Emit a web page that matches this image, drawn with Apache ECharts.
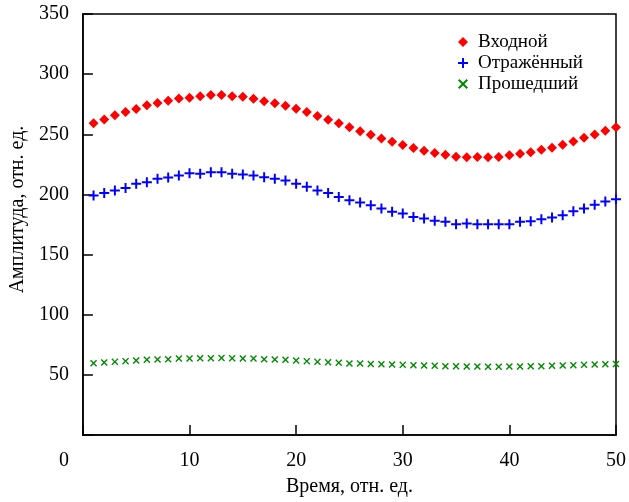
<!DOCTYPE html>
<html>
<head>
<meta charset="utf-8">
<script src="https://cdn.jsdelivr.net/npm/echarts@6/dist/echarts.min.js"></script>
<style>
html,body{margin:0;padding:0;background:#fff;}
#chart{width:629px;height:502px;}
</style>
</head>
<body>
<div id="chart"></div>
<script>
var timeValues = [1,2,3,4,5,6,7,8,9,10,11,12,13,14,15,16,17,18,19,20,21,22,23,24,25,26,27,28,29,30,31,32,33,34,35,36,37,38,39,40,41,42,43,44,45,46,47,48,49,50];
var inputValues = [259.2,262.2,265.8,268.5,271.0,274.1,276.0,277.9,279.8,280.4,281.7,282.6,282.6,281.7,281.2,279.6,277.4,275.7,273.8,271.3,268.6,265.3,262.0,259.2,255.9,252.6,249.6,246.6,243.8,241.0,238.6,236.4,234.4,233.0,231.4,230.9,231.1,230.9,231.1,232.5,233.9,235.0,237.2,238.8,241.3,244.1,247.1,249.9,252.9,255.9];
var reflectedValues = [199.2,201.2,203.3,205.3,208.9,210.2,213.0,214.1,215.7,217.7,217.1,218.5,218.5,217.1,216.5,215.7,214.3,213.0,211.6,208.9,206.4,203.3,201.2,197.9,195.1,193.2,190.9,188.2,185.5,184.1,181.3,180.0,178.1,177.2,175.3,175.8,175.3,175.3,175.3,175.3,177.2,177.7,179.4,180.8,182.7,186.0,188.2,191.5,194.2,195.9];
var transmittedValues = [59.7,60.3,60.8,61.4,61.9,62.5,62.7,63.0,63.6,63.6,63.8,63.8,64.1,63.8,63.6,63.6,63.0,62.7,62.5,61.9,61.4,60.8,60.5,60.0,59.4,59.4,59.1,58.9,58.6,58.3,58.0,57.8,57.5,57.2,57.2,57.0,57.0,56.7,56.7,57.0,57.0,57.2,57.2,57.5,57.8,58.0,58.3,58.6,58.9,59.1];
var seriesNames = ['Входной','Отражённый','Прошедший'];
var xTickLabels = ['0','10','20','30','40','50'];
var yTickLabels = ['','50','100','150','200','250','300','350'];
var xAxisTitle = 'Время, отн. ед.';
var yAxisTitle = 'Амплитуда, отн. ед.';

function pairs(vals){ return timeValues.map(function(t,i){ return [t, vals[i]]; }); }

var FONT = 'Liberation Serif';
var plusPath = 'path://M4,0H6V4H10V6H6V10H4V6H0V4H4Z';
var crossPath = 'path://M0,1.4L1.4,0L5,3.6L8.6,0L10,1.4L6.4,5L10,8.6L8.6,10L5,6.4L1.4,10L0,8.6L3.6,5Z';

var chart = echarts.init(document.getElementById('chart'), null, {renderer:'canvas'});
chart.setOption({
  animation: false,
  backgroundColor: '#fff',
  grid: {left: 82, right: 10, top: 14, bottom: 64, show: true, borderColor: '#000', borderWidth: 1.5, backgroundColor: 'transparent'},
  legend: {
    orient: 'vertical', left: 453, top: 27,
    itemWidth: 10, itemHeight: 10, itemGap: 1,
    data: [
      {name: seriesNames[0]},
      {name: seriesNames[1], itemStyle: {color: '#0000ff'}},
      {name: seriesNames[2]}
    ],
    textStyle: {fontFamily: FONT, fontSize: 19, lineHeight: 20, color: '#000', padding: [0, 0, 0, 5]}
  },
  xAxis: {
    type: 'value', min: 0, max: 50, interval: 10,
    name: xAxisTitle, nameLocation: 'middle', nameGap: 42,
    nameTextStyle: {fontFamily: FONT, fontSize: 20, color: '#000'},
    axisLine: {lineStyle: {color: '#000', width: 1.5}},
    axisTick: {inside: true, length: 10, lineStyle: {color: '#000', width: 1.5}},
    splitLine: {show: false},
    axisLabel: {
      margin: 16, fontFamily: FONT, fontSize: 20, color: '#000',
      formatter: function(v){ var s = xTickLabels[Math.round(v/10)]; return v === 0 ? '{z|' + s + '}' : s; },
      rich: {z: {fontFamily: FONT, fontSize: 20, color: '#000', padding: [0, 38, 0, 0]}}
    }
  },
  yAxis: {
    type: 'value', min: 0, max: 350, interval: 50,
    name: yAxisTitle, nameLocation: 'middle', nameGap: 54,
    nameTextStyle: {fontFamily: FONT, fontSize: 20, color: '#000', padding: [0, 0, 0, 30]},
    axisLine: {lineStyle: {color: '#000', width: 1.5}},
    axisTick: {inside: true, length: 10, lineStyle: {color: '#000', width: 1.5}},
    splitLine: {show: false},
    axisLabel: {
      margin: 14, fontFamily: FONT, fontSize: 20, color: '#000',
      formatter: function(v){ return yTickLabels[Math.round(v/50)]; }
    }
  },
  series: [
    {name: seriesNames[0], type: 'scatter', symbol: 'diamond', symbolSize: 10, data: pairs(inputValues), itemStyle: {color: '#ff0000', opacity: 1}},
    {name: seriesNames[1], type: 'scatter', symbol: plusPath, symbolSize: 10, data: pairs(reflectedValues), itemStyle: {color: '#0000ff', opacity: 1}},
    {name: seriesNames[2], type: 'scatter', symbol: crossPath, symbolSize: 7, data: pairs(transmittedValues), itemStyle: {color: '#008a00', opacity: 1}}
  ]
});
</script>
</body>
</html>
